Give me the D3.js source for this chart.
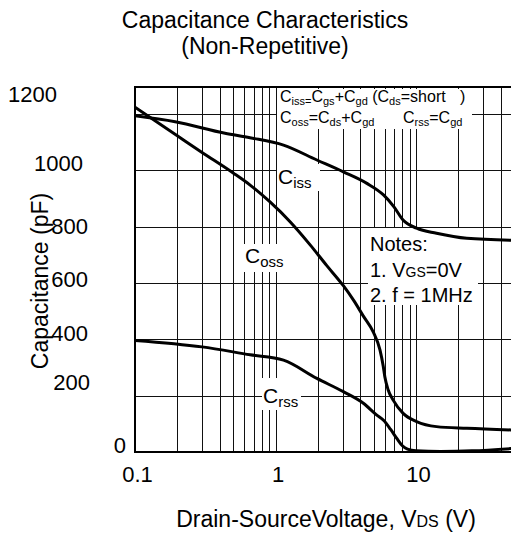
<!DOCTYPE html>
<html>
<head>
<meta charset="utf-8">
<script src="https://cdnjs.cloudflare.com/ajax/libs/d3/7.8.5/d3.min.js"></script>
<style>
  html, body { margin: 0; padding: 0; background: #fff; }
  svg { display: block; font-family: 'Liberation Sans', Arial, Helvetica, sans-serif; }
  svg text { white-space: pre; fill: #000; }
</style>
</head>
<body>
<div id="chart"></div>
<script>
// Capacitance vs Vds
const xTicks = [0.1, 1, 10];
const xTickLabels = ['0.1', '1', '10'];
const yTicks = [0, 200, 400, 600, 800, 1000, 1200];

// [Vds (V), capacitance (pF)]
const ciss = [[0.1, 1193], [0.193, 1172], [0.437, 1131], [0.658, 1115], [1.14, 1089], [1.97, 1036],
  [3.04, 994], [4.47, 953], [5.87, 912], [6.97, 870], [8.09, 823], [10.1, 794], [14, 776], [23, 758], [50, 751]];
const coss = [[0.1, 1223], [0.2, 1122], [0.3, 1063], [0.5, 990], [0.66, 947], [0.91, 888], [1.27, 817],
  [1.77, 734], [2.31, 662], [3.04, 590], [3.6, 538], [4.22, 482], [4.97, 425], [5.54, 362], [5.85, 303],
  [6.0, 267], [6.34, 220], [6.88, 184], [8.1, 137], [10.1, 108], [14, 90], [23, 84], [50, 78]];
const crss = [[0.1, 396], [0.3, 373], [0.66, 345], [1.14, 326], [1.97, 261], [3.04, 214], [4.22, 173],
  [5.26, 131], [5.9, 112], [6.6, 80], [7.3, 48], [8.0, 22], [8.7, 10], [10, 4], [15, 2], [25, 4], [50, 13]];

const W = 511, H = 535;
const plot = { left: 135, top: 87, right: 556.5, bottom: 452 };

const svg = d3.select('#chart').append('svg').attr('width', W).attr('height', H);

const x = d3.scaleLog().domain([0.1, 100]).range([plot.left, plot.right]);
const y = d3.scaleLinear().domain([0, 1295]).range([plot.bottom, plot.top]);
const snap = v => Math.round(v) + 0.5;

// text with _{sub} (lowered) and ~{small} (same baseline) runs
function rich(sel, str, small, shift) {
  let cur = 0;
  str.split(/([_~]\{[^}]*\})/).filter(s => s).forEach(p => {
    const m = p.match(/^([_~])\{(.*)\}$/);
    const ts = sel.append('tspan');
    if (m) {
      const want = m[1] === '_' ? shift : 0;
      ts.text(m[2]).style('font-size', small + 'px').attr('dy', want - cur);
      cur = want;
    } else {
      ts.text(p).attr('dy', -cur);
      cur = 0;
    }
  });
  return sel;
}

function label(str, px, py, size, small, shift, anchor) {
  const t = svg.append('text').attr('x', px).attr('y', py)
    .attr('text-anchor', anchor || 'start').style('font-size', size + 'px');
  return rich(t, str, small, shift);
}

svg.append('clipPath').attr('id', 'clip').append('rect')
  .attr('x', plot.left).attr('y', plot.top)
  .attr('width', plot.right - plot.left).attr('height', plot.bottom - plot.top);

// grid
const grid = svg.append('g').attr('stroke', '#111').attr('stroke-width', 1);
grid.selectAll('line.v').data(x.ticks().filter(d => d > 0.1001 && d < 99.9)).join('line')
  .attr('class', 'v')
  .attr('x1', d => snap(x(d))).attr('x2', d => snap(x(d)))
  .attr('y1', plot.top).attr('y2', plot.bottom);
grid.selectAll('line.h').data(yTicks.filter(d => d > 0)).join('line')
  .attr('class', 'h')
  .attr('x1', plot.left).attr('x2', plot.right)
  .attr('y1', d => snap(y(d))).attr('y2', d => snap(y(d)));

svg.append('rect')
  .attr('x', plot.left).attr('y', plot.top)
  .attr('width', plot.right - plot.left).attr('height', plot.bottom - plot.top)
  .attr('fill', 'none').attr('stroke', '#000').attr('stroke-width', 2);

// white patches behind the annotations
const patches = [
  [277, 89, 195, 40],   // formula box
  [368, 228, 110, 77],  // notes
  [277, 164, 43, 27],   // Ciss
  [241, 244, 50, 28],   // Coss
  [262, 378, 39, 32]    // Crss
];
svg.append('g').selectAll('rect').data(patches).join('rect')
  .attr('x', d => d[0]).attr('y', d => d[1]).attr('width', d => d[2]).attr('height', d => d[3])
  .attr('fill', '#fff');

// curves
const line = d3.line().x(d => x(d[0])).y(d => y(d[1])).curve(d3.curveMonotoneX);
svg.append('g').attr('clip-path', 'url(#clip)')
  .selectAll('path').data([ciss, coss, crss]).join('path')
  .attr('d', line).attr('fill', 'none').attr('stroke', '#000')
  .attr('stroke-width', 3).attr('stroke-linejoin', 'round');

// axes
const xAxis = svg.append('g').attr('transform', `translate(0,${plot.bottom})`)
  .call(d3.axisBottom(x).tickValues(xTicks).tickSize(0).tickPadding(14)
    .tickFormat((d, i) => xTickLabels[i]));
xAxis.select('.domain').remove();
xAxis.selectAll('text').attr('dx', 2).style('font-size', '22px')
  .style('font-family', "'Liberation Sans', Arial, sans-serif");

const yLabelNudge = { 0: [0, -7], 200: [-36, -13], 400: [-38, -6], 600: [-38, -3], 800: [-38, 0], 1000: [-43, -6.5], 1200: [-69, -19] };
const yAxis = svg.append('g').attr('transform', `translate(${plot.left},0)`)
  .call(d3.axisLeft(y).tickValues(yTicks).tickSize(0).tickPadding(9).tickFormat(d3.format('d')));
yAxis.select('.domain').remove();
yAxis.selectAll('text')
  .attr('transform', d => `translate(${yLabelNudge[d][0]},${yLabelNudge[d][1]})`)
  .style('font-size', '22px')
  .style('font-family', "'Liberation Sans', Arial, sans-serif");

// titles
label('Capacitance Characteristics', 265, 28, 23, 16, 0, 'middle');
label('(Non-Repetitive)', 265, 54, 23, 16, 0, 'middle');
label('Drain-SourceVoltage, V~{DS} (V)', 326, 527, 23, 16, 0, 'middle');
svg.append('text').attr('transform', 'translate(48,281) rotate(-90)')
  .attr('text-anchor', 'middle').style('font-size', '23px').text('Capacitance (pF)');

// formula box
label('C_{iss=}C_{gs}+C_{gd} (C_{ds}=short', 280, 101.5, 16, 11, 3);
label(')', 460, 101.5, 16, 11, 3);
label('C_{oss}=C_{ds}+C_{gd}', 280, 123, 16, 11, 3);
label('C_{rss}=C_{gd}', 403, 123, 16, 11, 3);

// notes
label('Notes:', 370, 250.5, 20, 14, 0);
label('1. V~{GS}=0V', 370, 276.5, 20, 14, 0);
label('2. f = 1MHz', 370, 302, 20, 14, 0);

// curve names
label('C_{iss}', 278, 184, 21, 15, 4);
label('C_{oss}', 245, 263, 21, 15, 4);
label('C_{rss}', 263, 403, 21, 15, 4);
</script>
</body>
</html>
